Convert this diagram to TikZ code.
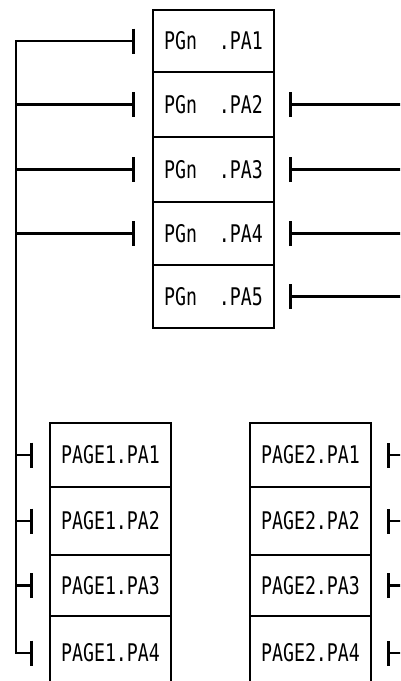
\documentclass[tikz,border=0pt]{standalone}
\usepackage{fontspec}
\newfontfamily\plotfont[FakeStretch=0.75]{DejaVu Sans Mono}
\usetikzlibrary{arrows.meta}
\begin{document}
\begin{tikzpicture}[x=1pt,y=-1pt,
  cell/.style={draw, line width=2.8pt, rectangle, anchor=north west,
    minimum width=121pt, inner sep=0pt, outer sep=0pt,
    font=\plotfont\fontsize{24.3}{26}\selectfont},
  wire/.style={line width=2.8pt, line join=miter},
  teeend/.style={-{Bar[width=25pt]}},
  teestart/.style={{Bar[width=25pt]}-},
  teeboth/.style={{Bar[width=25pt]}-{Bar[width=25pt]}}]
\useasboundingbox (0,0) rectangle (400,681);
\clip (0,0) rectangle (400,681);
% top stack
\node[cell, minimum height=62pt] (t1) at (153,10) {PGn\ \ .PA1};
\node[cell, minimum height=65pt] (t2) at (153,72) {PGn\ \ .PA2};
\node[cell, minimum height=65pt] (t3) at (153,137) {PGn\ \ .PA3};
\node[cell, minimum height=63pt] (t4) at (153,202) {PGn\ \ .PA4};
\node[cell, minimum height=63pt] (t5) at (153,265) {PGn\ \ .PA5};
% PAGE1 stack
\node[cell, minimum height=64pt] (a1) at (50,423) {PAGE1.PA1};
\node[cell, minimum height=68pt] (a2) at (50,487) {PAGE1.PA2};
\node[cell, minimum height=61pt] (a3) at (50,555) {PAGE1.PA3};
\node[cell, minimum height=74pt] (a4) at (50,616) {PAGE1.PA4};
% PAGE2 stack
\node[cell, minimum height=64pt] (b1) at (250,423) {PAGE2.PA1};
\node[cell, minimum height=68pt] (b2) at (250,487) {PAGE2.PA2};
\node[cell, minimum height=61pt] (b3) at (250,555) {PAGE2.PA3};
\node[cell, minimum height=74pt] (b4) at (250,616) {PAGE2.PA4};
% reference coordinates
\coordinate (bus) at (16,0);
\coordinate (redge) at (406,0);
% left bus
\draw[wire, teeboth] ([xshift=-18pt]t1.west) -- (t1.west -| bus) -- (a4.west -| bus) -- ([xshift=-17pt]a4.west);
\foreach \n in {t2,t3,t4}
  \draw[wire, teeend] (\n.west -| bus) -- ([xshift=-18pt]\n.west);
\foreach \n in {a1,a2,a3}
  \draw[wire, teeend] (\n.west -| bus) -- ([xshift=-17pt]\n.west);
% right lines
\foreach \n in {t2,t3,t4,t5}
  \draw[wire, teestart] ([xshift=15pt]\n.east) -- (\n.east -| redge);
\foreach \n in {b1,b2,b3,b4}
  \draw[wire, teestart] ([xshift=16pt]\n.east) -- (\n.east -| redge);
\end{tikzpicture}
\end{document}
